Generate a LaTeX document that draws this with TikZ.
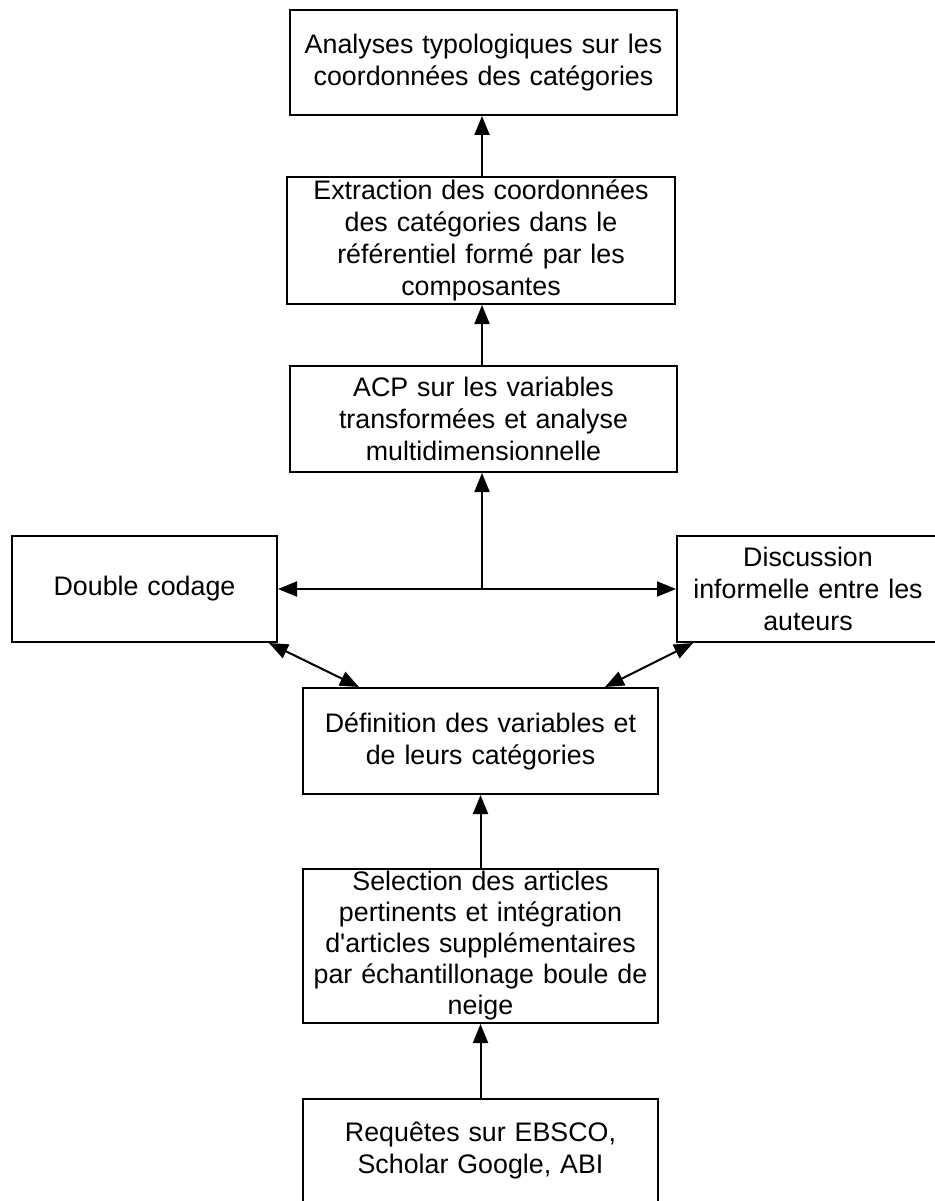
\documentclass[tikz,border=0pt]{standalone}
\usepackage{fontspec}
\setmainfont{Liberation Sans}
\usetikzlibrary{arrows.meta}
\tikzset{
  stepbox/.style={draw, line width=2pt, rectangle, inner sep=0pt, align=center,
    font=\fontsize{26.8}{32}\selectfont},
  flow/.style={line width=2pt, -{Triangle[length=19pt,width=15pt]}},
  bothflow/.style={line width=2pt, {Triangle[length=19pt,width=15pt]}-{Triangle[length=19pt,width=15pt]}}
}
\begin{document}
\begin{tikzpicture}[x=1pt,y=-1pt]
        \useasboundingbox (0,0) rectangle (934,1201);
        % the boxes
        \node[stepbox, text width=387pt, minimum height=105pt] (typo)    at (483.5, 62.5)
          {Analyses typologiques sur les\\coordonnées des catégories};
        \node[stepbox, text width=388pt, minimum height=127pt] (extract) at (481, 240.5)
          {Extraction des coordonnées\\des catégories dans le\\référentiel formé par les\\composantes};
        \node[stepbox, text width=387pt, minimum height=106pt] (acp)     at (483.5, 419)
          {ACP sur les variables\\transformées et analyse\\multidimensionnelle};
        \node[stepbox, text width=265pt, minimum height=106pt] (double)  at (144.5, 589)
          {Double codage};
        \node[stepbox, text width=262pt, minimum height=106pt] (disc)    at (808, 589)
          {Discussion\\informelle entre les\\auteurs};
        \node[stepbox, text width=355pt, minimum height=106pt] (defvar)  at (480.5, 741)
          {Définition des variables et\\de leurs catégories};
        \node[stepbox, text width=355pt, minimum height=154pt,
              font=\fontsize{26.8}{31}\selectfont] (select)  at (480.5, 946)
          {Selection des articles\\pertinents et intégration\\d\textquotesingle articles supplémentaires\\par échantillonage boule de\\neige};
        \node[stepbox, text width=355pt, minimum height=104pt] (query)   at (480.5, 1151)
          {Requêtes sur EBSCO,\\Scholar Google, ABI};
        % the junction under the ACP box
        \coordinate (junction) at (482, 589);
        % drawing the arrows
        \draw[flow] (query.north)   -- (select.south);
        \draw[flow] (select.north)  -- (defvar.south);
        \draw[bothflow] ([xshift=-9pt]double.south east) -- ([xshift=57pt]defvar.north west);
        \draw[bothflow] ([xshift=17pt]disc.south west)   -- ([xshift=-54pt]defvar.north east);
        \draw[bothflow] (double.east) -- (disc.west);
        \draw[flow] (junction)      -- (junction |- acp.south);
        \draw[flow] (acp.north -| junction) -- (junction |- extract.south);
        \draw[flow] (extract.north -| junction) -- (junction |- typo.south);
      \end{tikzpicture}
\end{document}
